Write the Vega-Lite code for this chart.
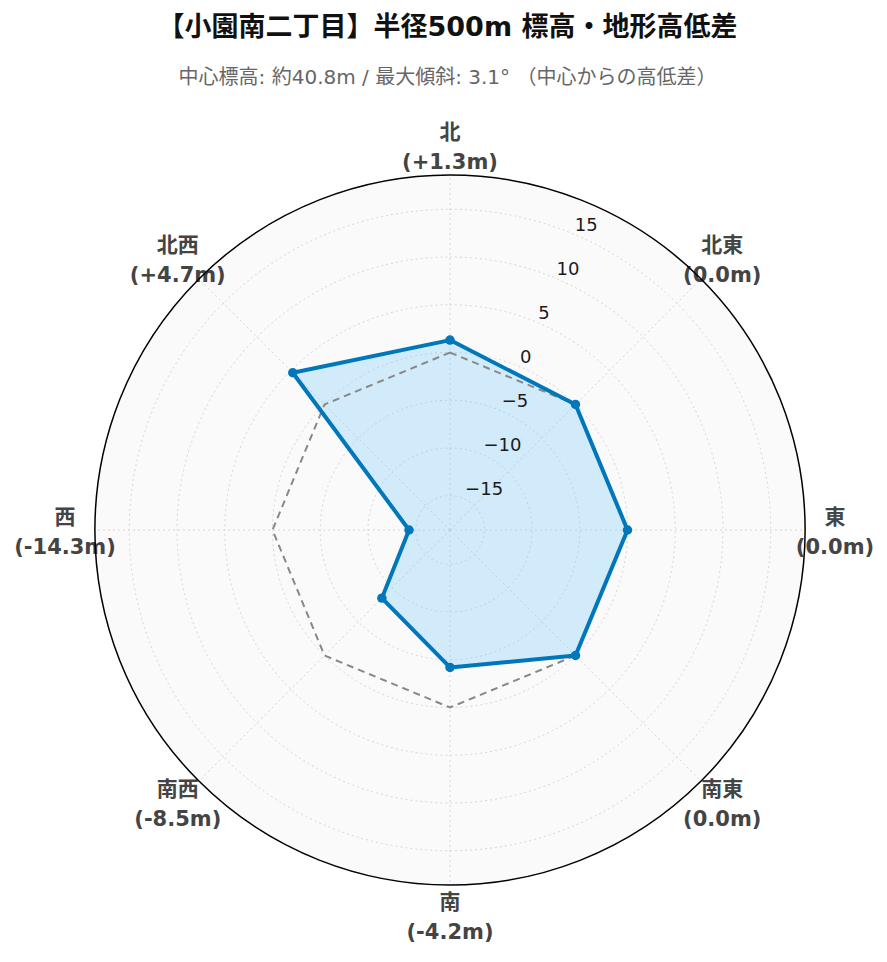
{
  "$schema": "https://vega.github.io/schema/vega-lite/v6.json",
  "autosize": {"type": "none"},
  "width": 887,
  "height": 862,
  "padding": {"top": 100, "left": 0, "right": 0, "bottom": 0},
  "background": "white",
  "config": {"view": {"stroke": null}, "font": "DejaVu Sans, Noto Sans CJK JP"},
  "title": {
    "text": "【小園南二丁目】半径500m 標高・地形高低差",
    "subtitle": "中心標高: 約40.8m / 最大傾斜: 3.1° （中心からの高低差）",
    "anchor": "middle",
    "frame": "group",
    "dx": 4,
    "fontSize": 27,
    "fontWeight": "bold",
    "color": "#111111",
    "subtitleFontSize": 20,
    "subtitleColor": "#666666",
    "subtitlePadding": 26,
    "offset": 11,
    "font": "DejaVu Sans, Noto Sans CJK JP",
    "subtitleFont": "DejaVu Sans, Noto Sans CJK JP"
  },
  "datasets": {
    "dirs": [
      {"dir": "北", "i": 0, "deg": 0, "value": 1.3, "ref": 0, "label": "(+1.3m)"},
      {"dir": "北東", "i": 1, "deg": 45, "value": 0.0, "ref": 0, "label": "(0.0m)"},
      {"dir": "東", "i": 2, "deg": 90, "value": 0.0, "ref": 0, "label": "(0.0m)"},
      {"dir": "南東", "i": 3, "deg": 135, "value": 0.0, "ref": 0, "label": "(0.0m)"},
      {"dir": "南", "i": 4, "deg": 180, "value": -4.2, "ref": 0, "label": "(-4.2m)"},
      {"dir": "南西", "i": 5, "deg": 225, "value": -8.5, "ref": 0, "label": "(-8.5m)"},
      {"dir": "西", "i": 6, "deg": 270, "value": -14.3, "ref": 0, "label": "(-14.3m)"},
      {"dir": "北西", "i": 7, "deg": 315, "value": 4.7, "ref": 0, "label": "(+4.7m)"}
    ],
    "ticks": [
      {"tick": -15, "text": "−15"},
      {"tick": -10, "text": "−10"},
      {"tick": -5, "text": "−5"},
      {"tick": 0, "text": "0"},
      {"tick": 5, "text": "5"},
      {"tick": 10, "text": "10"},
      {"tick": 15, "text": "15"}
    ],
    "edge": [{"rmax": 18.59}]
  },
  "layer": [
    {
      "data": {"name": "edge"},
      "transform": [{"calculate": "0", "as": "c"}, {"calculate": "datum.rmax + 18.59", "as": "rr"}],
      "mark": {"type": "arc", "theta": 0, "theta2": 6.283185307179586, "fill": "#fafafa"},
      "encoding": {
        "x": {"field": "c", "type": "quantitative", "scale": {"domain": [-47.130, 45.768], "nice": false, "zero": false}, "axis": null},
        "y": {"field": "c", "type": "quantitative", "scale": {"domain": [-45.244, 45.035], "nice": false, "zero": false}, "axis": null},
        "radius": {"field": "rr", "type": "quantitative", "stack": null, "scale": {"type": "linear", "domain": [0, 37.18], "range": [0, 355], "zero": true, "nice": false}}
      }
    },
    {
      "data": {"name": "ticks"},
      "transform": [{"calculate": "0", "as": "c"}, {"calculate": "datum.tick + 18.59", "as": "rr"}],
      "mark": {"type": "arc", "theta": 0, "theta2": 6.283185307179586, "fillOpacity": 0, "stroke": "#d6d6d6", "strokeWidth": 1, "strokeDash": [2, 3]},
      "encoding": {
        "x": {"field": "c", "type": "quantitative"},
        "y": {"field": "c", "type": "quantitative"},
        "radius": {"field": "rr", "type": "quantitative", "stack": null}
      }
    },
    {
      "data": {"name": "dirs"},
      "transform": [
        {"calculate": "0", "as": "c"},
        {"calculate": "37.18*sin(datum.deg*PI/180)", "as": "sx"},
        {"calculate": "37.18*cos(datum.deg*PI/180)", "as": "sy"}
      ],
      "mark": {"type": "rule", "stroke": "#d6d6d6", "strokeWidth": 1, "strokeDash": [2, 3]},
      "encoding": {
        "x": {"field": "c", "type": "quantitative"},
        "y": {"field": "c", "type": "quantitative"},
        "x2": {"field": "sx"},
        "y2": {"field": "sy"}
      }
    },
    {
      "data": {"name": "dirs"},
      "transform": [
        {"calculate": "(datum.value+18.59)*sin(datum.deg*PI/180)", "as": "px"},
        {"calculate": "(datum.value+18.59)*cos(datum.deg*PI/180)", "as": "py"}
      ],
      "mark": {"type": "line", "interpolate": "linear-closed", "fill": "#87cefa", "fillOpacity": 0.35, "strokeWidth": 0},
      "encoding": {
        "x": {"field": "px", "type": "quantitative"},
        "y": {"field": "py", "type": "quantitative"},
        "order": {"field": "i"}
      }
    },
    {
      "data": {"name": "dirs"},
      "transform": [
        {"calculate": "(datum.ref+18.59)*sin(datum.deg*PI/180)", "as": "px"},
        {"calculate": "(datum.ref+18.59)*cos(datum.deg*PI/180)", "as": "py"}
      ],
      "mark": {"type": "line", "interpolate": "linear-closed", "stroke": "#888888", "strokeWidth": 2, "strokeDash": [7, 5]},
      "encoding": {
        "x": {"field": "px", "type": "quantitative"},
        "y": {"field": "py", "type": "quantitative"},
        "order": {"field": "i"}
      }
    },
    {
      "data": {"name": "dirs"},
      "transform": [
        {"calculate": "(datum.value+18.59)*sin(datum.deg*PI/180)", "as": "px"},
        {"calculate": "(datum.value+18.59)*cos(datum.deg*PI/180)", "as": "py"}
      ],
      "mark": {"type": "line", "interpolate": "linear-closed", "stroke": "#0077bb", "strokeWidth": 4, "strokeJoin": "round"},
      "encoding": {
        "x": {"field": "px", "type": "quantitative"},
        "y": {"field": "py", "type": "quantitative"},
        "order": {"field": "i"}
      }
    },
    {
      "data": {"name": "dirs"},
      "transform": [
        {"calculate": "(datum.value+18.59)*sin(datum.deg*PI/180)", "as": "px"},
        {"calculate": "(datum.value+18.59)*cos(datum.deg*PI/180)", "as": "py"}
      ],
      "mark": {"type": "point", "shape": "circle", "filled": true, "fill": "#0077bb", "opacity": 1, "size": 90},
      "encoding": {
        "x": {"field": "px", "type": "quantitative"},
        "y": {"field": "py", "type": "quantitative"}
      }
    },
    {
      "data": {"name": "ticks"},
      "transform": [
        {"calculate": "(datum.tick+18.59)*sin(22.5*PI/180)", "as": "tx"},
        {"calculate": "(datum.tick+18.59)*cos(22.5*PI/180)", "as": "ty"}
      ],
      "mark": {"type": "text", "align": "left", "baseline": "middle", "dx": 2, "dy": -8, "fontSize": 18, "color": "#1a1a1a", "font": "DejaVu Sans"},
      "encoding": {
        "x": {"field": "tx", "type": "quantitative"},
        "y": {"field": "ty", "type": "quantitative"},
        "text": {"field": "text"}
      }
    },
    {
      "data": {"name": "dirs"},
      "transform": [
        {"calculate": "40.32*sin(datum.deg*PI/180)", "as": "lx"},
        {"calculate": "40.32*cos(datum.deg*PI/180)", "as": "ly"},
        {"calculate": "[datum.dir, datum.label]", "as": "txt"}
      ],
      "mark": {"type": "text", "align": "center", "baseline": "middle", "dy": -12, "fontSize": 21, "fontWeight": "bold", "color": "#444444", "lineHeight": 30},
      "encoding": {
        "x": {"field": "lx", "type": "quantitative"},
        "y": {"field": "ly", "type": "quantitative"},
        "text": {"field": "txt"}
      }
    },
    {
      "data": {"name": "edge"},
      "transform": [{"calculate": "0", "as": "c"}, {"calculate": "datum.rmax + 18.59", "as": "rr"}],
      "mark": {"type": "arc", "theta": 0, "theta2": 6.283185307179586, "fillOpacity": 0, "stroke": "#000000", "strokeWidth": 1.5},
      "encoding": {
        "x": {"field": "c", "type": "quantitative"},
        "y": {"field": "c", "type": "quantitative"},
        "radius": {"field": "rr", "type": "quantitative", "stack": null}
      }
    }
  ]
}
